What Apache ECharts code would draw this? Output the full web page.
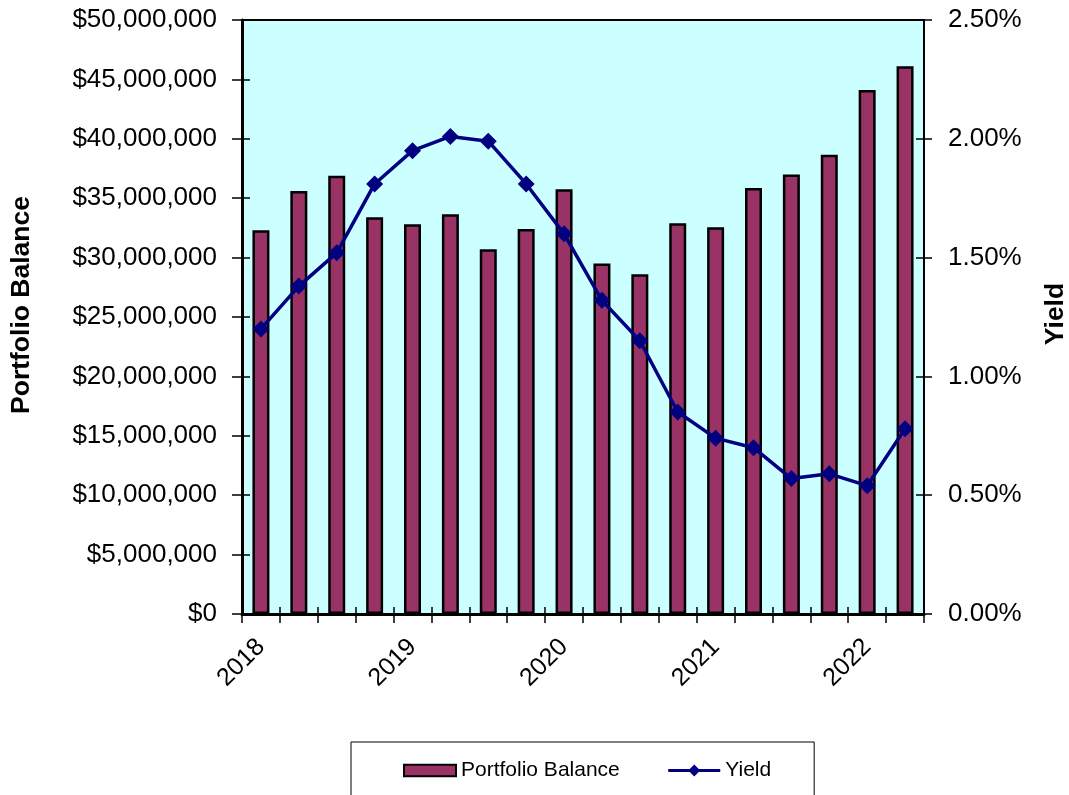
<!DOCTYPE html>
<html>
<head>
<meta charset="utf-8">
<script src="https://cdn.jsdelivr.net/npm/echarts@6/dist/echarts.min.js"></script>
<style>
  html, body { margin: 0; padding: 0; background: #ffffff; overflow: hidden; }
  #chart { width: 1069px; height: 795px; }
</style>
</head>
<body>
<div id="chart"></div>
<script>
// Quarterly portfolio balance and yield
const quarters = [
  '2018 Q1', '2018 Q2', '2018 Q3', '2018 Q4',
  '2019 Q1', '2019 Q2', '2019 Q3', '2019 Q4',
  '2020 Q1', '2020 Q2', '2020 Q3', '2020 Q4',
  '2021 Q1', '2021 Q2', '2021 Q3', '2021 Q4',
  '2022 Q1', '2022 Q2'
];
const yearLabels = ['2018', '2019', '2020', '2021', '2022'];
const balance = [
  32300000, 35600000, 36900000, 33400000,
  32800000, 33650000, 30700000, 32400000,
  35750000, 29500000, 28600000, 32900000,
  32550000, 35850000, 37000000, 38650000,
  44100000, 46100000
];
const yieldPct = [
  1.20, 1.38, 1.52, 1.81,
  1.95, 2.01, 1.99, 1.81,
  1.60, 1.32, 1.15, 0.85,
  0.74, 0.70, 0.57, 0.59,
  0.54, 0.78
];
const balanceScale = { min: 0, max: 50000000, interval: 5000000 };
const yieldScale = { min: 0, max: 2.5, interval: 0.5 };

const FONT = 'Liberation Sans';
const chart = echarts.init(document.getElementById('chart'), null, { renderer: 'canvas' });

function money(v) {
  return '$' + Math.round(v).toLocaleString('en-US');
}

// hidden companion axes give the ticks their inner half
const innerTickY = (position, scale, len) => ({
  type: 'value', position: position,
  min: scale.min, max: scale.max, interval: scale.interval,
  axisLine: { show: false },
  axisTick: { show: true, inside: true, length: len, lineStyle: { color: '#000', width: 1.5 } },
  axisLabel: { show: false },
  splitLine: { show: false }
});

const titleStyle = { fontFamily: FONT, fontSize: 26.5, fontWeight: 'bold', fill: '#000',
                     textAlign: 'center', textVerticalAlign: 'middle' };

chart.setOption({
  animation: false,
  textStyle: { fontFamily: FONT },
  grid: {
    left: 242, right: 145, top: 20, bottom: 181,
    outerBoundsMode: 'none',
    containLabel: false,
    show: true, backgroundColor: '#ccffff',
    borderColor: '#000', borderWidth: 2
  },
  graphic: [
    { type: 'text', x: 22, y: 305, rotation: Math.PI / 2,
      style: Object.assign({ text: 'Portfolio Balance' }, titleStyle) },
    { type: 'text', x: 1056, y: 314, rotation: Math.PI / 2,
      style: Object.assign({ text: 'Yield' }, titleStyle) }
  ],
  legend: {
    data: [
      // flat swatch kept at its own aspect inside the taller legend slot
      { name: 'Portfolio Balance', icon: 'path://M0,0h50v11h-50z' },
      { name: 'Yield', lineStyle: { width: 3 } }
    ],
    symbolKeepAspect: true,
    left: 351, top: 742,
    padding: [18, 43, 40, 52],
    itemWidth: 52, itemHeight: 15, itemGap: 47,
    backgroundColor: '#ffffff',
    borderColor: '#000', borderWidth: 1,
    textStyle: { fontFamily: FONT, fontSize: 21, color: '#000' }
  },
  xAxis: [
    {
      type: 'category', data: quarters, position: 'bottom',
      boundaryGap: true,
      axisLine: { show: true, lineStyle: { color: '#000', width: 3 } },
      axisTick: { show: true, interval: 0, length: 9, lineStyle: { color: '#000', width: 1.5 } },
      axisLabel: {
        interval: 3, rotate: 45, margin: 29,
        fontFamily: FONT, fontSize: 25, color: '#000',
        formatter: (v, i) => yearLabels[i / 4] || ''
      },
      splitLine: { show: false }
    },
    {
      type: 'category', data: quarters, position: 'bottom',
      boundaryGap: true,
      axisLine: { show: false },
      axisTick: { show: true, inside: true, interval: 0, length: 7, lineStyle: { color: '#000', width: 1.5 } },
      axisLabel: { show: false },
      splitLine: { show: false }
    }
  ],
  yAxis: [
    {
      type: 'value', position: 'left',
      min: balanceScale.min, max: balanceScale.max, interval: balanceScale.interval,
      axisLine: { show: true, lineStyle: { color: '#000', width: 3 } },
      axisTick: { show: true, length: 10, lineStyle: { color: '#000', width: 1.5 } },
      axisLabel: { margin: 25, fontFamily: FONT, fontSize: 26, color: '#000', formatter: money },
      splitLine: { show: false }
    },
    {
      type: 'value', position: 'right',
      min: yieldScale.min, max: yieldScale.max, interval: yieldScale.interval,
      axisLine: { show: true, lineStyle: { color: '#000', width: 2 } },
      axisTick: { show: true, length: 8, lineStyle: { color: '#000', width: 1.5 } },
      axisLabel: { margin: 24, fontFamily: FONT, fontSize: 26, color: '#000', formatter: v => v.toFixed(2) + '%' },
      splitLine: { show: false }
    },
    innerTickY('left', balanceScale, 8),
    innerTickY('right', yieldScale, 8)
  ],
  series: [
    {
      name: 'Portfolio Balance', type: 'bar',
      xAxisIndex: 0, yAxisIndex: 0,
      data: balance, barWidth: 17,
      itemStyle: { color: '#993366', borderColor: '#000', borderWidth: 2.5 },
      z: 2
    },
    {
      name: 'Yield', type: 'line',
      xAxisIndex: 0, yAxisIndex: 1,
      data: yieldPct,
      symbol: 'diamond', symbolSize: 17,
      lineStyle: { color: '#000080', width: 3.5 },
      itemStyle: { color: '#000080' },
      z: 3
    }
  ]
});
</script>
</body>
</html>
